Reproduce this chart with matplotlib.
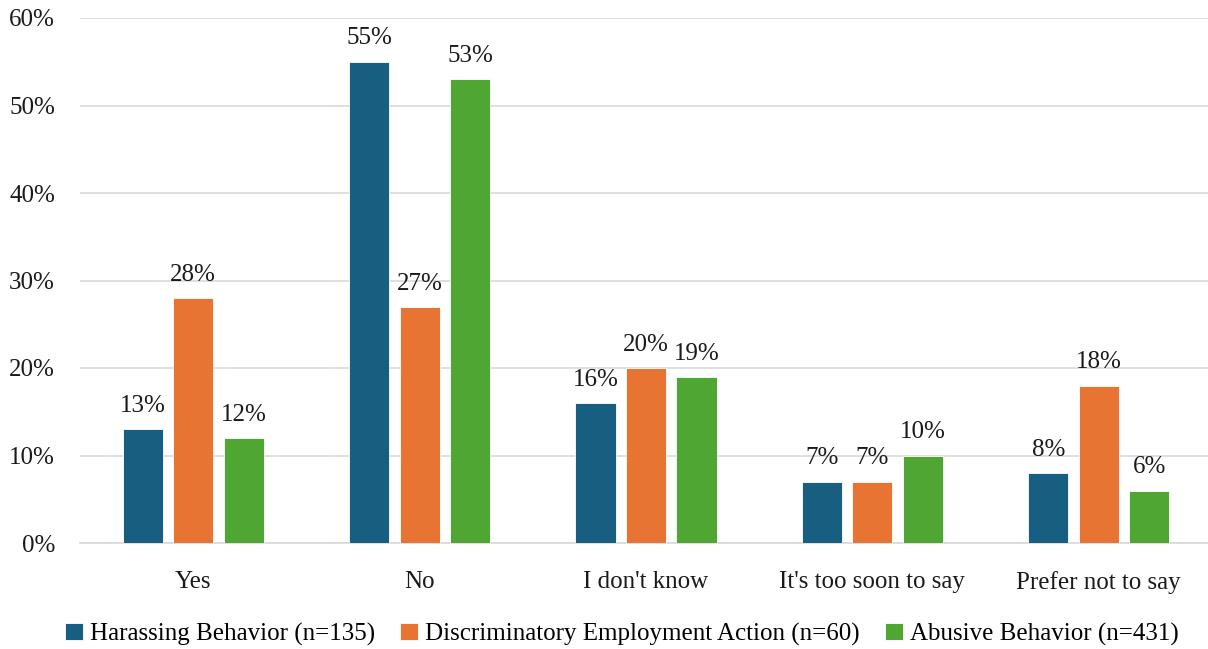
import numpy as np
import matplotlib.pyplot as plt
from matplotlib.ticker import PercentFormatter

categories = ["Yes", "No", "I don't know", "It's too soon to say", "Prefer not to say"]
series_names = ["Harassing Behavior (n=135)",
                "Discriminatory Employment Action (n=60)",
                "Abusive Behavior (n=431)"]
harassing = [13, 55, 16, 7, 8]
discriminatory = [28, 27, 20, 7, 18]
abusive = [12, 53, 19, 10, 6]
colors = ["#175E80", "#E87434", "#50A632"]

plt.rcParams['font.family'] = ['Liberation Serif', 'DejaVu Serif']
fs = 18

fig = plt.figure(figsize=(12.08, 6.49), dpi=100)
ax = fig.add_axes([80 / 1208, 1 - 543 / 649, 1132 / 1208, 525 / 649])

x = np.arange(len(categories))
width = 0.177
step = 0.223
for i, (vals, name, col) in enumerate(zip([harassing, discriminatory, abusive], series_names, colors)):
    pos = x + (i - 1) * step
    ax.bar(pos, vals, width, color=col, label=name, edgecolor='white', linewidth=0.6, zorder=3)
    for p, v in zip(pos, vals):
        ax.text(p, v + 1.4, f"{v}%", ha='center', va='bottom', fontsize=fs, color='#1a1a1a')

ax.set_xlim(-0.5, len(categories) - 0.5)
ax.set_ylim(0, 60)
ax.set_yticks(range(0, 61, 10))
ax.yaxis.set_major_formatter(PercentFormatter(decimals=0))
ax.set_xticks(x)
ax.set_xticklabels(categories)
ax.tick_params(axis='both', length=0, labelsize=fs, colors='#1a1a1a')
ax.tick_params(axis='y', pad=18)
ax.tick_params(axis='x', pad=20)
ax.grid(axis='y', color='#D9D9D9', linewidth=1.2, zorder=0)
for s in ['top', 'right', 'left']:
    ax.spines[s].set_visible(False)
ax.spines['bottom'].set_color('#D9D9D9')
ax.spines['bottom'].set_linewidth(1.2)

fig.legend(loc='center', bbox_to_anchor=(0.515, 1 - 634 / 649), ncol=3, frameon=False,
           fontsize=fs, handlelength=0.7, handleheight=0.7, handletextpad=0.3, columnspacing=1.0)

fig.savefig("out.png", dpi=100)
